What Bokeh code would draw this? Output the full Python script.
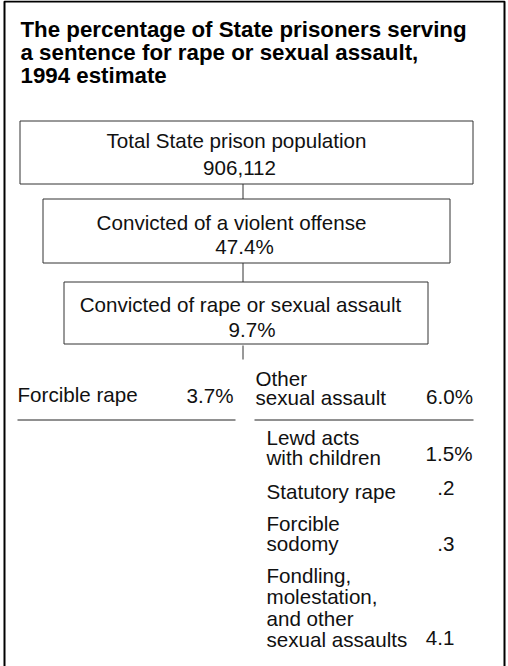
from bokeh.plotting import figure
from bokeh.models import Range1d
from bokeh.core.properties import value
from bokeh.embed import file_html
from bokeh.resources import INLINE

# ---------------- data ----------------
title_lines = ["The percentage of State prisoners serving",
               "a sentence for rape or sexual assault,",
               "1994 estimate"]
box_labels = ["Total State prison population",
              "Convicted of a violent offense",
              "Convicted of rape or sexual assault"]
box_values = ["906,112", "47.4%", "9.7%"]
split_labels = ["Forcible rape", "Other\nsexual assault"]
split_values = ["3.7%", "6.0%"]
sub_labels = ["Lewd acts\nwith children", "Statutory rape", "Forcible\nsodomy",
              "Fondling,\nmolestation,\nand other\nsexual assaults"]
sub_values = ["1.5%", ".2", ".3", "4.1"]

# ---------------- layout (page pixels; y values are text baselines) ----------------
W, H = 508, 666
FONT = value("Liberation Sans")
BODY = "20.6px"
INK = "#111111"
BODY_SHIFT = 7.5   # baseline -> vertical middle of capitals
TITLE_SHIFT = 8.2

box_rects = [(19.5, 120.5, 472.5, 183.5), (42.5, 198.5, 449.5, 262.5), (63.5, 281.5, 427.5, 343.5)]
box_line_cx = [(236, 239), (231, 244), (240, 251.5)]
box_line_y = [(147, 174.5), (229, 253.5), (311, 336)]
connectors = [(183.5, 198.5), (262.5, 281.5), (345, 359)]
conn_x = 242.5

title_x, title_y = 20, [36.7, 60, 83.3]

split_x = [17, 255]
split_line_y = [[401], [385, 404.5]]
split_val_right = [233, 472.5]
split_val_y = [402.5, 403.5]
rule_y = 419.5
rules = [(17, 235), (254, 473)]

sub_x = 266
sub_line_y = [[444.5, 464.5], [498.5], [530, 550], [582, 603.5, 625, 646]]
sub_val_y = [460, 495, 551, 645]

p = figure(width=W, height=H, x_range=Range1d(0, W), y_range=Range1d(H, 0),
           output_backend="svg", toolbar_location=None, min_border=0,
           x_axis_type=None, y_axis_type=None)
p.outline_line_color = None
p.background_fill_color = "white"
p.border_fill_color = "white"

# frame (left, top, right)
p.multi_line(xs=[[4, 4, 504, 504]], ys=[[H + 5, 1, 1, H + 5]], line_color="black", line_width=2)

# title
p.text(x=[title_x] * len(title_lines), y=[v - TITLE_SHIFT for v in title_y], text=title_lines,
       text_font=FONT, text_font_size="22.3px", text_font_style="bold", text_color="black",
       text_baseline="middle", text_align="left")

# boxes
p.quad(left=[r[0] for r in box_rects], right=[r[2] for r in box_rects],
       top=[r[1] for r in box_rects], bottom=[r[3] for r in box_rects],
       fill_color="white", line_color="#333333", line_width=1)
p.segment(x0=[conn_x] * len(connectors), x1=[conn_x] * len(connectors),
          y0=[c[0] for c in connectors], y1=[c[1] for c in connectors],
          line_color="#333333", line_width=1)

bx, by, bt = [], [], []
for i in range(len(box_labels)):
    bx += [box_line_cx[i][0], box_line_cx[i][1]]
    by += [box_line_y[i][0] - BODY_SHIFT, box_line_y[i][1] - BODY_SHIFT]
    bt += [box_labels[i], box_values[i]]
p.text(x=bx, y=by, text=bt, text_font=FONT, text_font_size=BODY, text_color=INK,
       text_baseline="middle", text_align="center")

# split level and sub-items
lx, ly, lt = [], [], []
for i, lab in enumerate(split_labels):
    for j, ln in enumerate(lab.split("\n")):
        lx.append(split_x[i]); ly.append(split_line_y[i][j] - BODY_SHIFT); lt.append(ln)
for i, lab in enumerate(sub_labels):
    for j, ln in enumerate(lab.split("\n")):
        lx.append(sub_x); ly.append(sub_line_y[i][j] - BODY_SHIFT); lt.append(ln)
p.text(x=lx, y=ly, text=lt, text_font=FONT, text_font_size=BODY, text_color=INK,
       text_baseline="middle", text_align="left")

vx = list(split_val_right) + [472 if v.endswith("%") else 454 for v in sub_values]
vy = [v - BODY_SHIFT for v in list(split_val_y) + list(sub_val_y)]
vt = list(split_values) + list(sub_values)
p.text(x=vx, y=vy, text=vt, text_font=FONT, text_font_size=BODY, text_color=INK,
       text_baseline="middle", text_align="right")

p.segment(x0=[r[0] for r in rules], x1=[r[1] for r in rules], y0=[rule_y] * 2, y1=[rule_y] * 2,
          line_color="#222222", line_width=1)

open("out.html", "w").write(file_html(p, INLINE))
